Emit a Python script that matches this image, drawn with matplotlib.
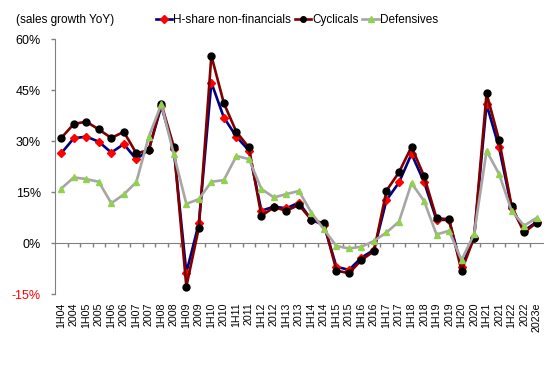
import matplotlib
matplotlib.use("Agg")
import matplotlib.pyplot as plt
from matplotlib.ticker import FuncFormatter

plt.rcParams['font.family'] = ['Liberation Sans', 'DejaVu Sans']

periods = ["1H04", "2004", "1H05", "2005", "1H06", "2006", "1H07", "2007", "1H08", "2008",
           "1H09", "2009", "1H10", "2010", "1H11", "2011", "1H12", "2012", "1H13", "2013",
           "1H14", "2014", "1H15", "2015", "1H16", "2016", "1H17", "2017", "1H18", "2018",
           "1H19", "2019", "1H20", "2020", "1H21", "2021", "1H22", "2022", "2023e"]

hshare = [26.4, 30.8, 31.3, 29.8, 26.6, 29.1, 24.6, 27.5, 40.2, 27.6,
          -8.7, 5.8, 47.2, 36.9, 31.3, 27.2, 9.5, 10.7, 10.2, 11.9,
          6.8, 5.3, -7.0, -7.9, -4.3, -2.0, 12.6, 17.8, 26.2, 18.0,
          6.8, 6.8, -7.0, 1.5, 40.8, 28.1, 10.4, 3.6, 6.2]

cyclicals = [30.9, 35.0, 35.7, 33.4, 30.9, 32.7, 26.4, 27.3, 40.9, 28.3,
             -12.8, 4.5, 55.1, 41.1, 32.7, 28.1, 8.0, 10.5, 9.5, 11.2,
             6.8, 5.8, -8.1, -8.9, -5.0, -2.4, 15.4, 20.8, 28.3, 19.7,
             7.3, 7.0, -8.2, 1.6, 44.0, 30.3, 10.9, 3.1, 6.0]

defensives = [16.0, 19.3, 18.8, 18.0, 11.7, 14.3, 17.9, 31.3, 40.8, 26.1,
              11.5, 12.9, 18.0, 18.5, 25.6, 24.7, 15.9, 13.4, 14.4, 15.3,
              8.9, 4.0, -0.9, -1.6, -1.1, 0.6, 3.1, 6.3, 17.6, 12.4,
              2.5, 3.6, -5.0, 2.6, 27.1, 20.3, 9.5, 5.1, 7.4]

yticks = [-15, 0, 15, 30, 45, 60]

fig = plt.figure(figsize=(5.5, 3.66), dpi=100)
ax = fig.add_axes([0.1, 0.1967, 0.887, 0.6967])

x = list(range(len(periods)))
ax.plot(x, hshare, color='#000080', lw=1.9, marker='D', ms=4.5,
        mfc='#FF0000', mec='#FF0000', label='H-share non-financials', zorder=3)
ax.plot(x, cyclicals, color='#800000', lw=1.9, marker='o', ms=5,
        mfc='#000000', mec='#000000', label='Cyclicals', zorder=4)
ax.plot(x, defensives, color='#A6A6A6', lw=1.9, marker='^', ms=5,
        mfc='#92D050', mec='#92D050', label='Defensives', zorder=5)

ax.set_xlim(-0.5, len(periods) - 0.5)
ax.set_ylim(-15, 60)
ax.set_yticks(yticks)
ax.yaxis.set_major_formatter(FuncFormatter(lambda v, p: f"{int(v)}%"))
for lab in ax.get_yticklabels():
    lab.set_color('#FF0000' if lab.get_text().startswith('-') else '#000000')
ax.tick_params(axis='y', direction='out', length=3, width=1, color='#808080',
               labelsize=9, pad=7)

for s in ['top', 'right']:
    ax.spines[s].set_visible(False)
ax.spines['left'].set_color('#808080')
ax.spines['bottom'].set_color('#808080')
ax.spines['bottom'].set_position(('data', 0))

ax.set_xticks(x)
ax.set_xticklabels(periods, rotation=90)
ax.set_xticks([i + 0.5 for i in x[:-1]], minor=True)
ax.tick_params(axis='x', which='major', length=0, labelsize=7.7, pad=43)
ax.tick_params(axis='x', which='minor', direction='out', length=3, width=1, color='#808080')

fig.text(0.03, 0.945, "(sales growth YoY)", fontsize=8.5, va='center', ha='left')
fig.legend(loc='center left', bbox_to_anchor=(0.283, 0.945), ncol=3, frameon=False,
           fontsize=8.5, handlelength=1.4, handletextpad=0.1, columnspacing=0.3,
           borderaxespad=0, borderpad=0, markerscale=0.8)

fig.savefig('out.png', dpi=100)
